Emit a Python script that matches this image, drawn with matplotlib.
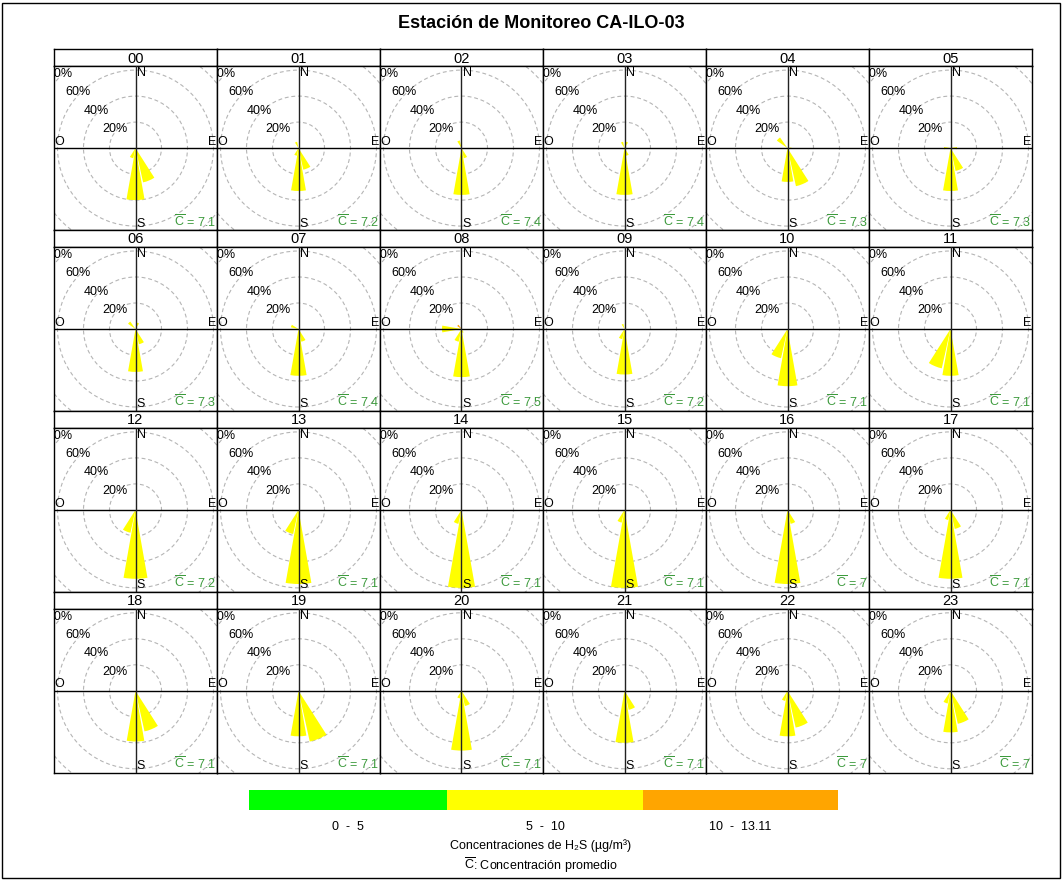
import numpy as np
import matplotlib.pyplot as plt
from matplotlib.patches import Wedge, Circle, Rectangle

plt.rcParams['font.family'] = ['Liberation Sans', 'DejaVu Sans']
plt.rcParams['mathtext.fontset'] = 'custom'
plt.rcParams['mathtext.rm'] = 'Liberation Sans'
plt.rcParams['mathtext.it'] = 'Liberation Sans:italic'

# Datos por hora (porcentaje de frecuencia por sector de dirección, rango 5 - 10)
hours = ['%02d' % h for h in range(24)]
c_mean = ['7.1', '7.2', '7.4', '7.4', '7.3', '7.3',
          '7.3', '7.4', '7.5', '7.2', '7.1', '7.1',
          '7.2', '7.1', '7.1', '7.1', '7', '7.1',
          '7.1', '7.1', '7.1', '7.1', '7', '7']

pct_s = [40, 33, 36, 36, 26, 33, 33, 36, 37, 35, 44, 36,
         53, 57, 60, 60, 57, 53, 39, 35, 46, 40, 35, 32]
pct_sse = [27, 17, 8, 6, 30, 18, 12, 10, 3, 0, 0, 0,
           0, 0, 0, 0, 11, 15, 32, 40, 12, 15, 29, 26]
pct_ssw = [8, 6, 0, 0, 0, 0, 0, 0, 10, 8, 23, 31,
           18, 19, 11, 10, 0, 8, 0, 0, 6, 0, 8, 10]
pct_nnw = [0, 5, 6, 5, 0, 0, 0, 0, 0, 4, 0, 0,
           0, 0, 0, 0, 0, 0, 0, 0, 0, 0, 0, 0]
pct_nw = [0, 0, 0, 0, 10, 0, 7, 0, 0, 0, 0, 0,
          0, 0, 0, 0, 0, 0, 0, 0, 0, 0, 0, 0]
pct_wnw = [0, 0, 0, 0, 0, 0, 0, 6, 0, 0, 0, 0,
           0, 0, 0, 0, 0, 0, 0, 0, 0, 0, 0, 0]
pct_w = [0, 0, 0, 0, 0, 5, 0, 0, 15, 0, 0, 0,
         0, 0, 0, 0, 0, 0, 0, 0, 0, 0, 0, 0]
pct_nne = [0, 0, 0, 5, 0, 0, 5, 0, 0, 0, 0, 0,
           0, 0, 0, 0, 0, 0, 0, 0, 0, 0, 0, 0]
pct_e = [0, 0, 0, 0, 3, 5, 0, 0, 0, 0, 0, 0,
         0, 0, 0, 0, 0, 0, 0, 0, 0, 0, 0, 0]
# rango 10 - 13.11
pct_orange_nw = [0, 0, 0, 0, 0, 0, 0, 0, 4, 0, 0, 0,
                 0, 0, 0, 0, 0, 0, 0, 0, 0, 0, 0, 0]

sectors = {180: pct_s, 157.5: pct_sse, 202.5: pct_ssw, 337.5: pct_nnw,
           315: pct_nw, 292.5: pct_wnw, 270: pct_w, 22.5: pct_nne, 90: pct_e}

bins = ['0  -  5', '5  -  10', '10  -  13.11']
bin_colors = ['#00ff00', '#ffff00', '#ffa500']
rings = [20, 40, 60, 80]
cbar = r'$\overline{\mathrm{C}}$'

W, H = 1063, 880
fig = plt.figure(figsize=(W / 100, H / 100), dpi=100)
fig.patches.append(Rectangle((2 / W, 2 / H), 1 - 5 / W, 1 - 5 / H, transform=fig.transFigure,
                             fill=False, edgecolor='black', lw=1))

fig.text(541 / W, 1 - 23 / H, 'Estación de Monitoreo CA-ILO-03', ha='center', va='center',
         fontsize=13, fontweight='bold')

x_left, col_w = 54, 163
y_top, row_h, strip_h = 49, 180.9, 17.3
panel_h = row_h - strip_h
half = 81.5 / 1.3  # % por mitad de panel


def draw_wedge(ax, direction, r0, r1, color):
    if r1 <= r0:
        return
    ang = 90 - direction
    ax.add_patch(Wedge((0, 0), r1, ang - 10, ang + 10, width=r1 - r0,
                       facecolor=color, edgecolor='none', zorder=2))


for i, hr in enumerate(hours):
    r, c = divmod(i, 6)
    x0 = x_left + c * col_w
    top = y_top + r * row_h
    # barra de título del panel
    sax = fig.add_axes([x0 / W, 1 - (top + strip_h) / H, col_w / W, strip_h / H])
    sax.set_xticks([])
    sax.set_yticks([])
    sax.text(0.5, 0.45, hr, ha='center', va='center', fontsize=10.5, transform=sax.transAxes)
    for sp in sax.spines.values():
        sp.set_linewidth(1)

    ax = fig.add_axes([x0 / W, 1 - (top + row_h) / H, col_w / W, panel_h / H])
    ax.set_xlim(-half, half)
    ax.set_ylim(-half * panel_h / col_w, half * panel_h / col_w)
    ax.set_xticks([])
    ax.set_yticks([])
    for sp in ax.spines.values():
        sp.set_linewidth(1)

    for rr in rings:
        ax.add_patch(Circle((0, 0), rr, fill=False, edgecolor='#b5b5b5', lw=0.8,
                            linestyle=(0, (3.5, 2.5)), zorder=1))
        ax.text(-rr * np.sin(np.pi / 4) - 1.5, rr * np.cos(np.pi / 4) + 0.5, '%d%%' % rr,
                ha='center', va='center', fontsize=9, zorder=4, clip_on=True)
    ax.axhline(0, color='black', lw=1, zorder=3)
    ax.axvline(0, color='#222222', lw=1, zorder=3)

    for d, vals in sectors.items():
        draw_wedge(ax, d, 0, vals[i], bin_colors[1])
    draw_wedge(ax, 315, pct_nw[i], pct_nw[i] + pct_orange_nw[i], bin_colors[2])

    yl = ax.get_ylim()[1]
    ax.text(1.0, yl - 0.5, 'N', ha='left', va='top', fontsize=9, zorder=4)
    ax.text(1.0, -yl + 0.3, 'S', ha='left', va='bottom', fontsize=9, zorder=4)
    ax.text(-half + 0.5, 0.3, 'O', ha='left', va='bottom', fontsize=9, zorder=4)
    ax.text(half - 0.5, 0.3, 'E', ha='right', va='bottom', fontsize=9, zorder=4)
    ax.text(half - 0.8, -yl + 0.3, cbar + ' = ' + c_mean[i], ha='right', va='bottom',
            fontsize=9, color='#3c9a3c', zorder=4)

# leyenda de colores
bar_x = [249, 447, 643, 838]
for k in range(3):
    fig.patches.append(Rectangle((bar_x[k] / W, 1 - 810 / H), (bar_x[k + 1] - bar_x[k]) / W, 20 / H,
                                 transform=fig.transFigure, facecolor=bin_colors[k],
                                 edgecolor='none'))
    fig.text((bar_x[k] + bar_x[k + 1]) / 2 / W, 1 - 827 / H, bins[k], ha='center', va='center',
             fontsize=9)
fig.text(541 / W, 1 - 846 / H, 'Concentraciones de H\u2082S (µg/m³)', ha='center', va='center',
         fontsize=9)
fig.text(541 / W, 1 - 865 / H, cbar + ': Concentración promedio', ha='center', va='center',
         fontsize=9)

fig.savefig('out.png', dpi=100, facecolor='white')
